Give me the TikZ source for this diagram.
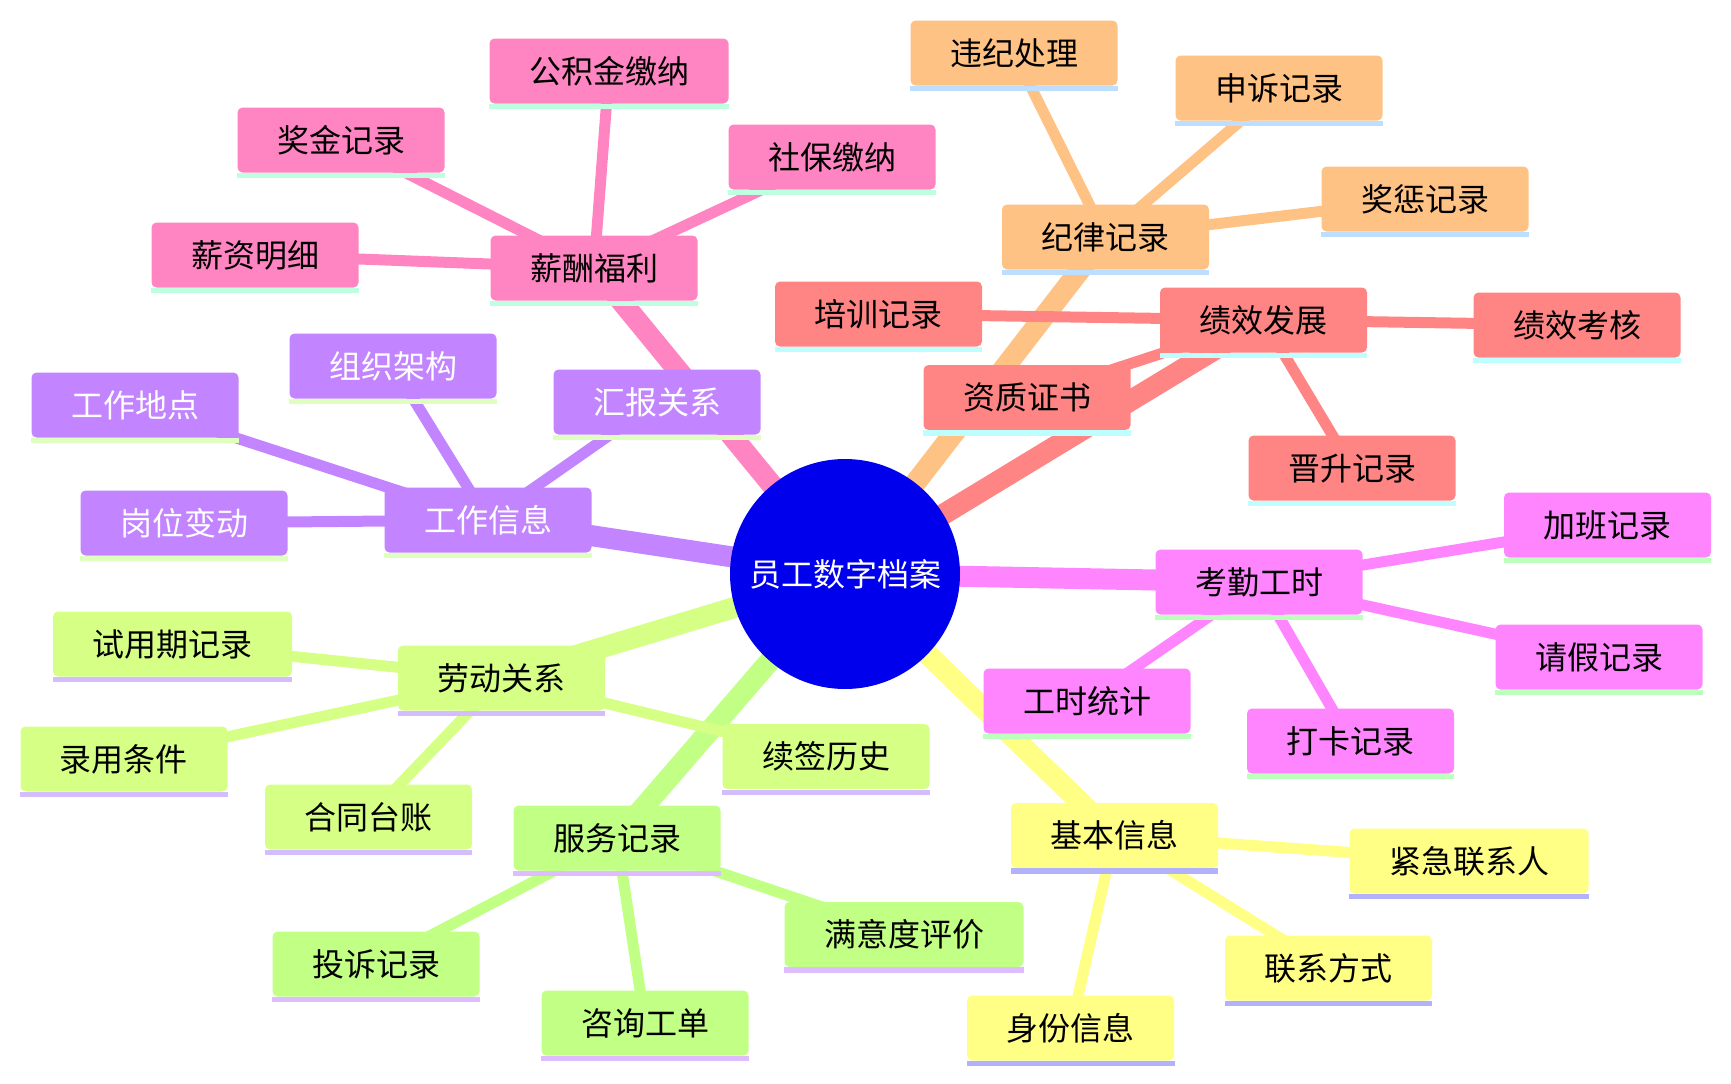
\documentclass[tikz,border=0pt]{standalone}
\usepackage{fontspec}
\setmainfont{Noto Sans CJK SC}
\usetikzlibrary{backgrounds}
\definecolor{cRoot}{RGB}{0,0,236}
\definecolor{cPink}{RGB}{255,133,194}
\definecolor{cPinkL}{RGB}{189,255,222}
\definecolor{cPurp}{RGB}{194,133,255}
\definecolor{cPurpL}{RGB}{222,255,189}
\definecolor{cRed}{RGB}{255,133,133}
\definecolor{cRedL}{RGB}{189,255,255}
\definecolor{cOrg}{RGB}{255,194,133}
\definecolor{cOrgL}{RGB}{189,222,255}
\definecolor{cMag}{RGB}{255,133,255}
\definecolor{cMagL}{RGB}{189,255,189}
\definecolor{cYel}{RGB}{255,255,133}
\definecolor{cYelL}{RGB}{178,178,250}
\definecolor{cGrn}{RGB}{194,255,133}
\definecolor{cGrnL}{RGB}{222,189,255}
\definecolor{cLim}{RGB}{214,255,133}
\definecolor{cLimL}{RGB}{211,189,255}
\begin{document}
\begin{tikzpicture}[x=0.5pt,y=-0.5pt,
  mm/.style={rectangle, rounded corners=2.5pt, minimum height=32.5pt,
    inner xsep=19.75pt, inner ysep=0pt, font=\fontsize{16pt}{19pt}\selectfont,
    text height=13.3pt, text depth=1.1pt, text=black, fill=#1},
  rootnode/.style={circle, fill=cRoot, minimum size=115pt, inner sep=0pt,
    text=white, font=\fontsize{16pt}{19pt}\selectfont},
  mainedge/.style={draw=#1, line width=10.5pt},
  subedge/.style={draw=#1, line width=5.5pt}]
\useasboundingbox (0,0) rectangle (1731,1083);
% root
\node[rootnode] (root) at (845,574) {员工数字档案};
% pink: 薪酬福利
\node[mm=cPink] (sal) at (594,268) {薪酬福利};
\node[mm=cPink] (gjj) at (609,71) {公积金缴纳};
\node[mm=cPink] (jj) at (341,140) {奖金记录};
\node[mm=cPink] (sb) at (832,157) {社保缴纳};
\node[mm=cPink] (xz) at (255,255) {薪资明细};
% purple: 工作信息
\node[mm=cPurp, text=white] (work) at (488,520) {工作信息};
\node[mm=cPurp, text=white] (zz) at (393,366) {组织架构};
\node[mm=cPurp, text=white] (gzdd) at (135,405) {工作地点};
\node[mm=cPurp, text=white] (hb) at (657,402) {汇报关系};
\node[mm=cPurp, text=white] (gw) at (184,523) {岗位变动};
% orange: 纪律记录
\node[mm=cOrg] (disc) at (1105.5,237) {纪律记录};
\node[mm=cOrg] (wj) at (1014,53) {违纪处理};
\node[mm=cOrg] (ss) at (1279,88) {申诉记录};
\node[mm=cOrg] (jc) at (1425,199) {奖惩记录};
% red: 绩效发展
\node[mm=cRed] (perf) at (1263.5,320) {绩效发展};
\node[mm=cRed] (px) at (878.5,314) {培训记录};
\node[mm=cRed] (jx) at (1577,325) {绩效考核};
\node[mm=cRed] (zzs) at (1027,397.5) {资质证书};
\node[mm=cRed] (js) at (1352,468) {晋升记录};
% magenta: 考勤工时
\node[mm=cMag] (att) at (1259,582) {考勤工时};
\node[mm=cMag] (jb) at (1607.5,525) {加班记录};
\node[mm=cMag] (qj) at (1599,657) {请假记录};
\node[mm=cMag] (gs) at (1087,701) {工时统计};
\node[mm=cMag] (dk) at (1350.5,741) {打卡记录};
% yellow: 基本信息
\node[mm=cYel] (basic) at (1114.5,835.5) {基本信息};
\node[mm=cYel] (jjlx) at (1469,861) {紧急联系人};
\node[mm=cYel] (lxfs) at (1328.5,968) {联系方式};
\node[mm=cYel] (sf) at (1070.7,1028) {身份信息};
% green: 服务记录
\node[mm=cGrn] (serv) at (617,838) {服务记录};
\node[mm=cGrn] (myd) at (904,934.5) {满意度评价};
\node[mm=cGrn] (ts) at (376,964) {投诉记录};
\node[mm=cGrn] (zx) at (645,1023) {咨询工单};
% lime: 劳动关系
\node[mm=cLim] (labor) at (501.5,678) {劳动关系};
\node[mm=cLim] (syq) at (172.5,644) {试用期记录};
\node[mm=cLim] (ly) at (124,759) {录用条件};
\node[mm=cLim] (ht) at (368.5,817) {合同台账};
\node[mm=cLim] (xq) at (826,756.6) {续签历史};
% underlines
\foreach \n/\c in {sal/cPinkL,gjj/cPinkL,jj/cPinkL,sb/cPinkL,xz/cPinkL,
  work/cPurpL,zz/cPurpL,gzdd/cPurpL,hb/cPurpL,gw/cPurpL,
  disc/cOrgL,wj/cOrgL,ss/cOrgL,jc/cOrgL,
  perf/cRedL,px/cRedL,jx/cRedL,zzs/cRedL,js/cRedL,
  att/cMagL,jb/cMagL,qj/cMagL,gs/cMagL,dk/cMagL,
  basic/cYelL,jjlx/cYelL,lxfs/cYelL,sf/cYelL,
  serv/cGrnL,myd/cGrnL,ts/cGrnL,zx/cGrnL,
  labor/cLimL,syq/cLimL,ly/cLimL,ht/cLimL,xq/cLimL}
  \fill[\c] (\n.south west) rectangle ([yshift=-2.75pt]\n.south east);
% connectors
\begin{scope}[on background layer]
\draw[mainedge=cPink] (root.center) -- (sal.center);
\draw[mainedge=cPurp] (root.center) -- (work.center);
\draw[mainedge=cOrg] (root.center) -- (disc.center);
\draw[mainedge=cRed] (root.center) -- (perf.center);
\draw[mainedge=cMag] (root.center) -- (att.center);
\draw[mainedge=cYel] (root.center) -- (basic.center);
\draw[mainedge=cGrn] (root.center) -- (serv.center);
\draw[mainedge=cLim] (root.center) -- (labor.center);
\foreach \n in {gjj,jj,sb,xz} \draw[subedge=cPink] (sal.center) -- (\n.center);
\foreach \n in {zz,gzdd,hb,gw} \draw[subedge=cPurp] (work.center) -- (\n.center);
\foreach \n in {wj,ss,jc} \draw[subedge=cOrg] (disc.center) -- (\n.center);
\foreach \n in {px,jx,zzs,js} \draw[subedge=cRed] (perf.center) -- (\n.center);
\foreach \n in {jb,qj,gs,dk} \draw[subedge=cMag] (att.center) -- (\n.center);
\foreach \n in {jjlx,lxfs,sf} \draw[subedge=cYel] (basic.center) -- (\n.center);
\foreach \n in {myd,ts,zx} \draw[subedge=cGrn] (serv.center) -- (\n.center);
\foreach \n in {syq,ly,ht,xq} \draw[subedge=cLim] (labor.center) -- (\n.center);
\end{scope}
\end{tikzpicture}
\end{document}
